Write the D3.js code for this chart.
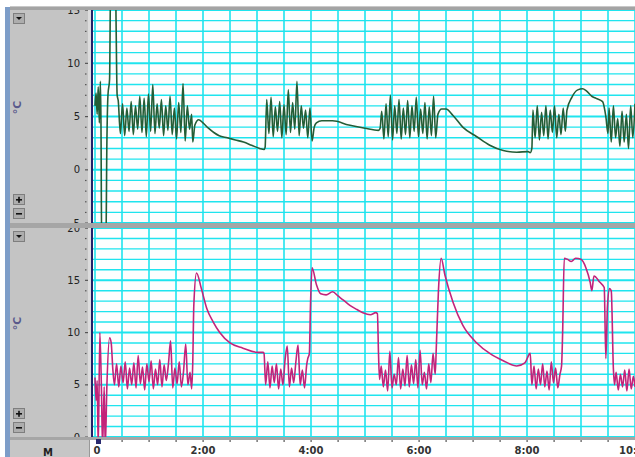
<!DOCTYPE html>
<html>
<head>
<meta charset="utf-8">
<script src="https://cdn.jsdelivr.net/npm/d3@7"></script>
<style>
  body { margin: 0; background: #fff; overflow: hidden; }
  svg { display: block; font-family: Tahoma, "DejaVu Sans", sans-serif; }
</style>
</head>
<body>
<svg id="chart" width="635" height="457"></svg>
<script>
// time axis (minutes)
const timeTicks = [0, 2, 4, 6, 8, 10];
const timeLabels = ["0", "2:00", "4:00", "6:00", "8:00", "10:00"];

const topTicks = [15, 10, 5, 0, -5];
const bottomTicks = [20, 15, 10, 5, 0];

// probe 1, °C  [minute, value]
const probeTop = [
  [0.00, 6.0], [0.02, 7.2], [0.04, 5.2], [0.06, 7.8], [0.08, 4.4], [0.10, 8.3], [0.11, 4.8],
  [0.125, -8], [0.20, -8], [0.22, 2.5], [0.24, 7.0], [0.27, 8.5], [0.29, 18], [0.38, 18],
  [0.39, 14], [0.41, 7.0],
  [0.43, 6.5], [0.47, 3.4], [0.51, 6.2], [0.55, 3.2], [0.59, 5.8], [0.63, 3.6], [0.67, 6.4],
  [0.71, 3.3], [0.75, 6.0], [0.79, 3.8], [0.83, 6.9], [0.87, 3.5], [0.91, 6.7], [0.95, 3.1],
  [0.99, 7.1], [1.03, 3.6], [1.07, 8.0], [1.11, 3.4], [1.15, 6.2], [1.19, 3.9], [1.23, 6.6],
  [1.27, 3.2], [1.31, 6.0], [1.35, 3.7], [1.39, 6.9], [1.43, 3.3], [1.47, 5.8], [1.51, 2.9],
  [1.55, 6.3], [1.59, 3.5], [1.63, 8.1], [1.67, 2.7], [1.71, 6.0], [1.75, 3.8], [1.79, 5.2],
  [1.81, 2.6],
  [1.85, 4.2], [1.92, 4.7], [2.00, 4.4], [2.10, 3.9], [2.20, 3.5], [2.30, 3.2], [2.45, 3.0],
  [2.60, 2.8], [2.75, 2.6], [2.90, 2.3], [3.05, 2.0], [3.13, 1.9],
  [3.15, 2.1], [3.18, 6.6], [3.22, 3.4], [3.26, 6.8], [3.30, 3.1], [3.34, 5.9], [3.38, 3.6],
  [3.42, 6.4], [3.46, 3.0], [3.50, 6.1], [3.54, 3.3], [3.58, 7.5], [3.62, 3.5], [3.66, 6.3],
  [3.70, 3.8], [3.74, 8.3], [3.78, 3.2], [3.82, 6.0], [3.86, 3.9], [3.90, 5.6], [3.94, 3.0],
  [3.98, 5.8], [4.02, 2.7],
  [4.06, 4.0], [4.10, 4.4], [4.20, 4.6], [4.40, 4.6], [4.70, 4.2], [5.00, 3.9], [5.25, 3.7],
  [5.28, 3.9], [5.31, 5.5], [5.35, 2.9], [5.39, 6.2], [5.43, 3.1], [5.47, 7.0], [5.51, 2.8],
  [5.55, 6.0], [5.59, 3.4], [5.63, 6.6], [5.67, 2.9], [5.71, 5.8], [5.75, 3.3], [5.79, 6.5],
  [5.83, 3.0], [5.87, 6.0], [5.91, 3.6], [5.95, 6.8], [5.99, 3.1], [6.03, 5.7], [6.07, 3.4],
  [6.11, 6.3], [6.15, 2.9], [6.19, 5.9], [6.23, 3.2], [6.27, 6.9], [6.31, 3.0],
  [6.35, 5.2], [6.42, 5.7], [6.50, 5.7], [6.63, 5.1], [6.81, 4.0], [7.07, 3.1], [7.31, 2.3],
  [7.56, 1.8], [7.81, 1.65], [8.02, 1.7], [8.06, 1.6],
  [8.09, 2.0], [8.11, 5.6], [8.15, 3.0], [8.19, 6.0], [8.23, 2.8], [8.27, 5.4], [8.31, 3.2],
  [8.35, 6.0], [8.39, 2.9], [8.43, 5.6], [8.47, 3.5], [8.51, 6.0], [8.55, 3.0], [8.59, 5.2],
  [8.63, 3.3], [8.67, 5.8], [8.71, 3.6],
  [8.74, 5.6], [8.83, 6.8], [8.94, 7.5], [9.03, 7.6], [9.10, 7.4], [9.20, 6.9], [9.28, 6.7],
  [9.40, 6.4], [9.46, 5.0], [9.50, 3.4],
  [9.52, 5.8], [9.56, 2.6], [9.60, 6.0], [9.64, 3.0], [9.68, 4.8], [9.72, 2.2], [9.76, 5.5],
  [9.80, 2.6], [9.84, 5.2], [9.88, 2.0], [9.92, 6.0], [9.96, 3.0], [10.0, 6.2]
];

// probe 2, °C  [minute, value]
const probeBottom = [
  [0.00, 5.7], [0.02, 3.5], [0.04, 5.4], [0.06, -1], [0.09, 10.0], [0.12, 4.4], [0.14, -1],
  [0.17, 4.8], [0.19, -1], [0.22, 4.9], [0.27, 9.5], [0.30, 9.0], [0.33, 6.5],
  [0.36, 5.0], [0.40, 7.0], [0.44, 4.8], [0.48, 6.8], [0.52, 5.2], [0.56, 7.2], [0.60, 4.6],
  [0.64, 6.6], [0.68, 5.0], [0.72, 7.1], [0.76, 4.7], [0.80, 7.8], [0.84, 5.1], [0.88, 6.7],
  [0.92, 4.5], [0.96, 7.0], [1.00, 5.3], [1.04, 7.3], [1.08, 4.6], [1.12, 6.5], [1.16, 5.0],
  [1.20, 7.4], [1.24, 4.8], [1.28, 6.9], [1.32, 5.4], [1.36, 7.0], [1.40, 9.2], [1.44, 4.7],
  [1.48, 6.6], [1.52, 5.1], [1.56, 7.2], [1.60, 4.8], [1.64, 6.3], [1.68, 8.9], [1.72, 5.0],
  [1.76, 6.2], [1.79, 4.6],
  [1.81, 7.0], [1.83, 12.6], [1.88, 15.7], [1.97, 14.2], [2.07, 12.3], [2.19, 11.0],
  [2.31, 10.0], [2.50, 9.0], [2.74, 8.5], [3.00, 8.1], [3.11, 8.1],
  [3.13, 8.0], [3.16, 5.0], [3.20, 7.2], [3.24, 4.7], [3.28, 6.8], [3.32, 5.2], [3.36, 7.0],
  [3.40, 4.6], [3.44, 6.5], [3.48, 5.0], [3.52, 7.4], [3.56, 8.7], [3.60, 4.8], [3.64, 6.6],
  [3.68, 5.2], [3.72, 7.2], [3.76, 8.8], [3.80, 5.0], [3.84, 6.4], [3.88, 4.7], [3.92, 6.9],
  [3.94, 7.5], [3.97, 8.0], [3.99, 12.5], [4.02, 16.2],
  [4.10, 14.6], [4.18, 13.7], [4.28, 13.6], [4.40, 13.9], [4.50, 13.5], [4.60, 13.1],
  [4.72, 12.6], [4.85, 12.2], [4.96, 11.9], [5.10, 11.7], [5.20, 11.9], [5.23, 11.8], [5.25, 8.0],
  [5.27, 5.5], [5.30, 6.8], [5.34, 4.8], [5.38, 6.4], [5.42, 4.4], [5.46, 8.2], [5.50, 4.7],
  [5.54, 6.0], [5.58, 5.0], [5.62, 7.6], [5.66, 4.6], [5.70, 6.5], [5.74, 4.9], [5.78, 7.8],
  [5.82, 4.8], [5.86, 6.9], [5.90, 5.1], [5.94, 7.4], [5.98, 4.7], [6.02, 8.3], [6.06, 5.0],
  [6.10, 6.2], [6.14, 4.6], [6.18, 7.0], [6.22, 5.2], [6.26, 8.0], [6.30, 6.0],
  [6.32, 8.5], [6.36, 14.0], [6.41, 17.1], [6.48, 15.5], [6.63, 12.9], [6.81, 10.7],
  [7.07, 9.0], [7.31, 8.0], [7.56, 7.3], [7.81, 6.8], [7.96, 7.1], [8.06, 8.0],
  [8.09, 5.0], [8.13, 6.8], [8.17, 4.6], [8.21, 6.5], [8.25, 5.0], [8.29, 7.0], [8.33, 4.8],
  [8.37, 6.3], [8.41, 4.5], [8.45, 7.2], [8.49, 5.2], [8.53, 6.6], [8.57, 4.7], [8.61, 6.0],
  [8.64, 6.8],
  [8.66, 10.0], [8.69, 17.1], [8.75, 17.0], [8.82, 16.8], [8.90, 17.1], [9.00, 17.0],
  [9.09, 16.2], [9.17, 14.8], [9.20, 14.0], [9.24, 15.4], [9.35, 14.8], [9.43, 14.3],
  [9.46, 7.5], [9.49, 12.5], [9.53, 14.2], [9.56, 14.0], [9.60, 6.5],
  [9.62, 5.0], [9.65, 6.2], [9.69, 4.5], [9.73, 6.0], [9.77, 4.8], [9.81, 6.4], [9.85, 4.4],
  [9.89, 6.5], [9.93, 4.6], [9.97, 5.8], [10.0, 4.8]
];

const W = 635, H = 457;
const svg = d3.select("#chart");
const defs = svg.append("defs");

const x = d3.scaleLinear().domain([0, 10]).range([95, 635]);

const panels = [
  { id: "p1", data: probeTop, ticks: topTicks, color: "#245d36",
    y: d3.scaleLinear().domain([-5, 15]).range([223, 10]) },
  { id: "p2", data: probeBottom, ticks: bottomTicks, color: "#c2237a",
    y: d3.scaleLinear().domain([0, 20]).range([437, 228]) }
];

// frame: blue strip, gray side panel
svg.append("rect").attr("x", 5).attr("y", 7).attr("width", 5).attr("height", H - 7).attr("fill", "#7d9dc8");
svg.append("rect").attr("x", 10).attr("y", 7).attr("width", 78).attr("height", H - 7).attr("fill", "#c4c4c4");
svg.append("rect").attr("x", 88).attr("y", 7).attr("width", 4).attr("height", 431).attr("fill", "#dcdcdc");

panels.forEach((p) => {
  const [y0, y1] = [p.y.range()[1], p.y.range()[0]];
  const dom = p.y.domain();

  defs.append("clipPath").attr("id", p.id + "-clip")
    .append("rect").attr("x", 93).attr("y", y0).attr("width", W - 93).attr("height", y1 - y0);
  defs.append("clipPath").attr("id", p.id + "-lab")
    .append("rect").attr("x", 10).attr("y", y0).attr("width", 82).attr("height", y1 - y0);

  const g = svg.append("g").attr("clip-path", `url(#${p.id}-clip)`);
  g.append("rect").attr("x", 93).attr("y", y0).attr("width", W - 93).attr("height", y1 - y0)
    .attr("fill", "#fdfefe");

  // grid
  g.selectAll(".vg").data(d3.range(0, 10.01, 0.5)).enter().append("line")
    .attr("x1", (d) => x(d)).attr("x2", (d) => x(d))
    .attr("y1", y0).attr("y2", y1)
    .attr("stroke", "#1ee4ee").attr("stroke-width", 1.6);
  g.selectAll(".hg").data(d3.range(dom[0], dom[1] + 1, 1)).enter().append("line")
    .attr("x1", 93).attr("x2", W)
    .attr("y1", (d) => p.y(d)).attr("y2", (d) => p.y(d))
    .attr("stroke", "#1ee4ee").attr("stroke-width", (d) => (d % 5 === 0 ? 2 : 1.4));

  // trace
  g.append("path").datum(p.data)
    .attr("d", d3.line().curve(d3.curveMonotoneX).x((d) => x(d[0])).y((d) => p.y(d[1])))
    .attr("fill", "none").attr("stroke", p.color).attr("stroke-width", 1.6)
    .attr("stroke-linejoin", "round");

  // axis line
  svg.append("line").attr("x1", 92).attr("x2", 92).attr("y1", y0).attr("y2", y1)
    .attr("stroke", "#22226a").attr("stroke-width", 2);

  // y ticks and labels
  const lab = svg.append("g").attr("clip-path", `url(#${p.id}-lab)`);
  lab.selectAll(".dot").data(d3.range(dom[0], dom[1] + 1, 1)).enter().append("rect")
    .attr("x", 85).attr("y", (d) => p.y(d) - 0.5)
    .attr("width", (d) => (d % 5 === 0 ? 3 : 1.5)).attr("height", 1.2)
    .attr("fill", "#555");
  lab.selectAll(".yl").data(p.ticks).enter().append("text")
    .attr("x", 80).attr("y", (d) => p.y(d) + 3.5)
    .attr("text-anchor", "end").attr("font-size", 10).attr("fill", "#222")
    .text((d) => d);

  // unit label
  const cy = (y0 + y1) / 2 - 9;
  svg.append("text").attr("transform", `translate(21,${cy}) rotate(-90)`)
    .attr("text-anchor", "middle").attr("font-size", 11).attr("font-weight", "bold")
    .attr("fill", "#5a5a8c")
    .text("°C");

  // buttons
  const btn = (bx, by, kind) => {
    svg.append("rect").attr("x", bx + 0.5).attr("y", by + 0.5).attr("width", 11).attr("height", 10)
      .attr("fill", "#adadad").attr("stroke", "#7e7e7e");
    if (kind === "down") {
      svg.append("path").attr("d", `M${bx + 3},${by + 4}h6l-3,3z`).attr("fill", "#111");
    } else {
      svg.append("rect").attr("x", bx + 3).attr("y", by + 5).attr("width", 6).attr("height", 1.6).attr("fill", "#111");
      if (kind === "plus") {
        svg.append("rect").attr("x", bx + 5.2).attr("y", by + 2.8).attr("width", 1.6).attr("height", 6).attr("fill", "#111");
      }
    }
  };
  btn(13, y0 + 3, "down");
  btn(13, y1 - 29, "plus");
  btn(13, y1 - 15, "minus");
});

// bars: top, separator, bottom
svg.append("rect").attr("x", 10).attr("y", 6).attr("width", W - 10).attr("height", 4).attr("fill", "#a4a4a4");
svg.append("rect").attr("x", 10).attr("y", 6).attr("width", W - 10).attr("height", 1).attr("fill", "#c8c8c8");
svg.append("rect").attr("x", 10).attr("y", 223).attr("width", W - 10).attr("height", 5).attr("fill", "#a6a6a6");
svg.append("rect").attr("x", 10).attr("y", 437).attr("width", W - 10).attr("height", 3).attr("fill", "#a6a6a6");

// time axis strip
svg.append("rect").attr("x", 90).attr("y", 440).attr("width", W - 90).attr("height", H - 440).attr("fill", "#fff");
svg.append("rect").attr("x", 10).attr("y", 440).attr("width", 79).attr("height", H - 440).attr("fill", "#c6c6c6");
svg.append("line").attr("x1", 89.5).attr("x2", 89.5).attr("y1", 440).attr("y2", H).attr("stroke", "#999");
svg.append("text").attr("x", 48).attr("y", 456).attr("text-anchor", "middle")
  .attr("font-size", 10).attr("font-weight", "bold").attr("fill", "#222").text("M");

svg.selectAll(".xt").data(d3.range(0.5, 10, 0.5)).enter().append("rect")
  .attr("x", (d) => x(d) - 0.5).attr("y", 440).attr("width", 1.2).attr("height", 2)
  .attr("fill", "#555");
svg.selectAll(".xl").data(timeTicks).enter().append("text")
  .attr("x", (d, i) => (i === 0 ? x(d) + 2 : x(d)))
  .attr("y", 454).attr("text-anchor", "middle")
  .attr("font-size", 10).attr("font-weight", "bold").attr("fill", "#333")
  .text((d, i) => timeLabels[i]);
svg.append("rect").attr("x", 96).attr("y", 439).attr("width", 5).attr("height", 5).attr("fill", "#2a2a70");
</script>
</body>
</html>
